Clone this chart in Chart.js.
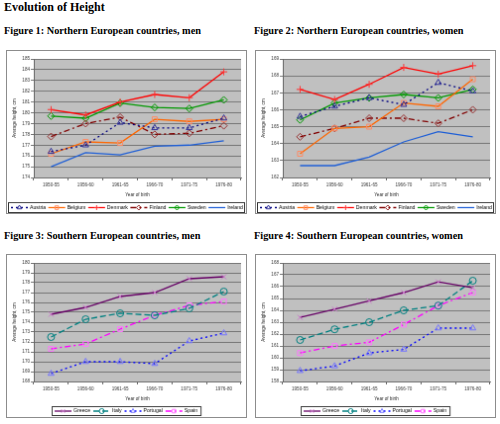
<!DOCTYPE html>
<html lang="en">
<head>
<meta charset="UTF-8">
<title>Evolution of Height</title>
<script src="https://cdn.jsdelivr.net/npm/chart.js"></script>
<style>
  body { margin: 0; width: 500px; height: 424px; background: #fff; position: relative; overflow: hidden; }
  .head { position: absolute; margin: 0; left: 4px; font: bold 10.3px "Liberation Serif", "Times New Roman", serif; color: #000; white-space: nowrap; }
  .top { font-size: 12px; }
  canvas { position: absolute; border: 1px solid #8c8c8c; }
</style>
</head>
<body>
  <div class="head top" style="top:0px">Evolution of Height</div>
  <div class="head" style="top:25px">Figure 1: Northern European countries, men</div>
  <div class="head" style="top:25px;left:254px">Figure 2: Northern European countries, women</div>
  <div class="head" style="top:230px">Figure 3: Southern European countries, men</div>
  <div class="head" style="top:230px;left:254px">Figure 4: Southern European countries, women</div>

  <canvas id="c1" width="241" height="164" style="left:6px;top:50px"></canvas>
  <canvas id="c2" width="241" height="164" style="left:255px;top:50px"></canvas>
  <canvas id="c3" width="241" height="164" style="left:6px;top:254px"></canvas>
  <canvas id="c4" width="241" height="164" style="left:255px;top:254px"></canvas>

<script>
const years = ['1950-55', '1956-60', '1961-65', '1966-70', '1971-75', '1976-80'];

// Figure 1: northern Europe, men
const austriaMen  = [176.4, 177.0, 179.1, 178.6, 178.6, 179.5];
const belgiumMen  = [176.2, 177.3, 177.2, 179.4, 179.2, 179.4];
const denmarkMen  = [180.3, 179.8, 181.0, 181.7, 181.4, 183.8];
const finlandMen  = [177.8, 179.0, 179.6, 178.0, 178.1, 178.8];
const swedenMen   = [179.7, 179.5, 180.9, 180.5, 180.4, 181.2];
const irelandMen  = [175.0, 176.3, 176.1, 176.9, 177.0, 177.4];

// Figure 2: northern Europe, women
const austriaWomen = [165.6, 166.2, 166.7, 166.3, 167.6, 167.1];
const belgiumWomen = [163.4, 164.9, 165.0, 166.4, 166.2, 167.8];
const denmarkWomen = [167.2, 166.6, 167.5, 168.5, 168.1, 168.6];
const finlandWomen = [164.4, 164.9, 165.5, 165.5, 165.2, 166.0];
const swedenWomen  = [165.4, 166.4, 166.7, 166.9, 166.7, 167.2];
const irelandWomen = [162.7, 162.7, 163.2, 164.1, 164.7, 164.4];

// Figure 3: southern Europe, men
const greeceMen   = [174.8, 175.5, 176.6, 177.0, 178.4, 178.6];
const italyMen    = [172.5, 174.3, 174.9, 174.7, 175.4, 177.1];
const portugalMen = [168.8, 170.0, 170.0, 169.8, 172.1, 172.9];
const spainMen    = [171.3, 171.8, 173.3, 174.7, 175.7, 176.1];

// Figure 4: southern Europe, women
const greeceWomen   = [163.4, 164.1, 164.8, 165.5, 166.4, 165.9];
const italyWomen    = [161.5, 162.4, 163.0, 164.0, 164.4, 166.5];
const portugalWomen = [158.9, 159.3, 160.4, 160.7, 162.5, 162.5];
const spainWomen    = [160.4, 161.0, 161.3, 162.8, 164.4, 165.5];

const tickFont = { family: 'Liberation Sans', size: 4.6 };
const titleFont = { family: 'Liberation Sans', size: 4.6 };

// grey plot area like the Excel originals
const plotBg = {
  id: 'plotBg',
  beforeDraw(chart) {
    const { ctx, chartArea: a } = chart;
    ctx.save();
    ctx.fillStyle = '#c0c0c0';
    ctx.fillRect(a.left, a.top, a.width, a.height);
    ctx.restore();
  }
};

// Excel style legend: line sample with the marker on it, inside a box
const boxLegend = {
  id: 'boxLegend',
  afterDraw(chart, args, opts) {
    const ctx = chart.ctx;
    const sample = 17, gap = 2, sep = 3;
    ctx.save();
    ctx.font = '5.2px "Liberation Sans"';
    const items = chart.data.datasets.map(ds => ({ ds, w: ctx.measureText(ds.label).width }));
    const total = items.reduce((s, it) => s + sample + gap + it.w, 0) + sep * (items.length - 1);
    let x0, x1;
    if (opts.full) {
      x0 = 1; x1 = chart.width - 2;
    } else {
      x0 = Math.round((chart.width - total) / 2) - 3; x1 = x0 + total + 6;
    }
    const extra = opts.full ? (x1 - x0 - 4 - total) / (items.length - 1) : 0;
    ctx.strokeStyle = '#333';
    ctx.lineWidth = 1;
    ctx.strokeRect(x0 + 0.5, opts.top + 0.5, x1 - x0, opts.height);
    const cy = opts.top + opts.height / 2 + 0.5;
    let x = x0 + 3;
    items.forEach(({ ds, w }) => {
      ctx.save();
      ctx.strokeStyle = ds.borderColor;
      ctx.lineWidth = ds.borderWidth;
      ctx.setLineDash(ds.borderDash || []);
      ctx.beginPath();
      ctx.moveTo(x, cy);
      ctx.lineTo(x + sample, cy);
      ctx.stroke();
      ctx.setLineDash([]);
      if (ds.pointRadius > 0) {
        ctx.strokeStyle = ds.pointBorderColor;
        ctx.fillStyle = 'rgba(0,0,0,0)';
        ctx.lineWidth = 1;
        Chart.helpers.drawPoint(ctx, { pointStyle: ds.pointStyle, radius: 2.5, rotation: 0, borderWidth: 1 }, x + sample / 2, cy);
      }
      ctx.restore();
      ctx.fillStyle = '#000';
      ctx.textBaseline = 'middle';
      ctx.fillText(ds.label, x + sample + gap, cy);
      x += sample + gap + w + sep + extra;
    });
    ctx.restore();
  }
};

function series(label, data, color, dash, style, markColor) {
  return {
    label, data,
    borderColor: color, borderWidth: 1.3, borderDash: dash,
    pointStyle: style || 'circle', pointRadius: style ? 3.5 : 0,
    pointBorderColor: markColor || color, pointBackgroundColor: 'rgba(0,0,0,0)',
    pointBorderWidth: 1, tension: 0, fill: false
  };
}

function makeChart(id, datasets, yMin, yMax, fullLegend) {
  return new Chart(document.getElementById(id), {
    type: 'line',
    data: { labels: years, datasets },
    options: {
      responsive: false,
      animation: false,
      layout: { padding: { left: 0, right: 4, top: 8, bottom: 16 } },
      plugins: {
        legend: { display: false },
        tooltip: { enabled: false },
        boxLegend: { full: fullLegend, top: 153, height: fullLegend ? 10 : 9 }
      },
      scales: {
        x: {
          offset: true,
          grid: { offset: true, drawOnChartArea: false, tickLength: 3, color: '#666' },
          border: { color: '#666' },
          ticks: { font: tickFont, color: '#333', padding: 2, maxRotation: 0, autoSkip: false },
          title: { display: true, text: 'Year of birth', font: titleFont, color: '#222', padding: 0 },
          afterFit: s => { s.height = 20; }
        },
        y: {
          min: yMin, max: yMax,
          ticks: { stepSize: 1, font: tickFont, color: '#333', padding: 1 },
          grid: { color: '#777', tickLength: 3 },
          border: { color: '#666' },
          title: { display: true, text: 'Average height, cm', font: titleFont, color: '#222', padding: { top: 5, bottom: 0 } },
          afterFit: s => { s.width = 27; }
        }
      }
    },
    plugins: [plotBg, boxLegend]
  });
}

function northern(a, b, d, f, s, i) {
  return [
    series('Austria', a, '#000080', [2, 3], 'triangle', '#333399'),
    series('Belgium', b, '#ff6600', [], 'rect', '#ff8c66'),
    series('Denmark', d, '#ff0000', [], 'cross', '#ff3333'),
    series('Finland', f, '#800000', [6, 3, 2, 3], 'rectRot', '#993333'),
    series('Sweden', s, '#009900', [], 'rectRot', '#009900'),
    series('Ireland', i, '#1f5fd6', [], null)
  ];
}

function southern(g, it, p, s) {
  return [
    series('Greece', g, '#660066', [], 'crossRot', '#cc77cc'),
    series('Italy', it, '#008080', [6, 3], 'circle', '#008080'),
    series('Portugal', p, '#0000ff', [2, 3], 'triangle', '#7777ff'),
    series('Spain', s, '#ff00ff', [6, 3, 2, 3], 'rect', '#ff77ff')
  ];
}

makeChart('c1', northern(austriaMen, belgiumMen, denmarkMen, finlandMen, swedenMen, irelandMen), 174, 185, true);
makeChart('c2', northern(austriaWomen, belgiumWomen, denmarkWomen, finlandWomen, swedenWomen, irelandWomen), 162, 169, true);
makeChart('c3', southern(greeceMen, italyMen, portugalMen, spainMen), 168, 180, false);
makeChart('c4', southern(greeceWomen, italyWomen, portugalWomen, spainWomen), 158, 168, false);
</script>
</body>
</html>
